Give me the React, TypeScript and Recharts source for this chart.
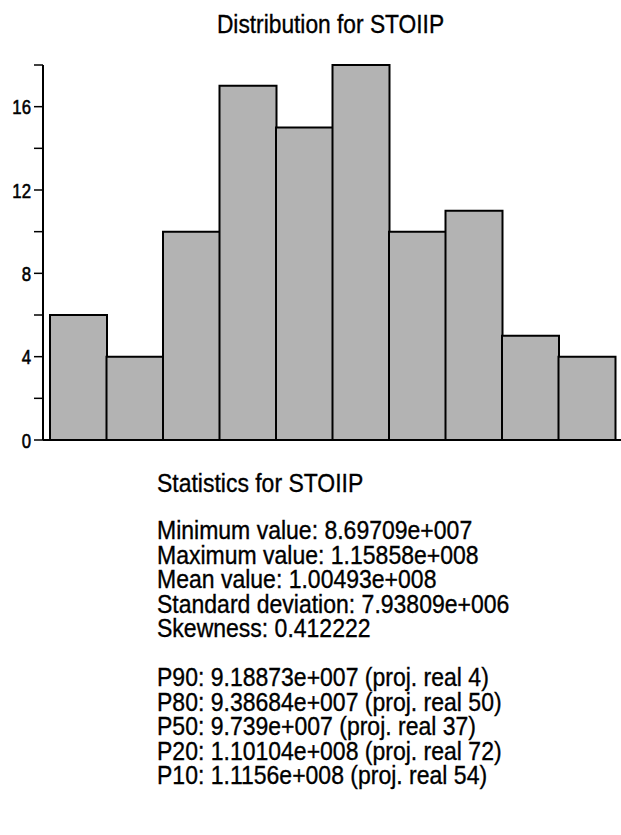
import React from 'react';
import { BarChart, Bar, XAxis, YAxis } from 'recharts';

const bins = ['1', '2', '3', '4', '5', '6', '7', '8', '9', '10'];
const counts = [6, 4, 10, 17, 15, 18, 10, 11, 5, 4];
const yTicks = [0, 2, 4, 6, 8, 10, 12, 14, 16, 18];
const statLines = [
  'Minimum value: 8.69709e+007',
  'Maximum value: 1.15858e+008',
  'Mean value: 1.00493e+008',
  'Standard deviation: 7.93809e+006',
  'Skewness: 0.412222',
];
const percentileLines = [
  'P90: 9.18873e+007 (proj. real 4)',
  'P80: 9.38684e+007 (proj. real 50)',
  'P50: 9.739e+007 (proj. real 37)',
  'P20: 1.10104e+008 (proj. real 72)',
  'P10: 1.1156e+008 (proj. real 54)',
];

const data = bins.map((bin, i) => ({ bin, count: counts[i] }));
const font = "'Liberation Sans', Arial, sans-serif";
const thick = { WebkitTextStroke: '0.35px #000' } as React.CSSProperties;

// narrow-looking tick labels, only every 4th value gets a label
const YTick = ({ x, y, payload }: any) => {
  if (payload.value % 4 !== 0) return null;
  return (
    <text
      transform={`translate(${x},${y}) scale(0.8,1)`}
      textAnchor="end"
      dy={7.5}
      fontSize={21}
      fontFamily={font}
      fill="#000"
      stroke="#000"
      strokeWidth={0.6}
    >
      {payload.value}
    </text>
  );
};

const Line = ({ text, scale }: { text: string; scale: number }) => (
  <div style={{ whiteSpace: 'nowrap', transform: `scaleX(${scale})`, transformOrigin: 'left center' }}>{text}</div>
);

const App: React.FC = () => {
  return (
    <div style={{ position: 'absolute', left: 0, top: 0, width: 621, height: 835, background: '#fff', fontFamily: font, color: '#000', overflow: 'hidden' }}>
      <div style={{ position: 'absolute', left: 0, top: 10, width: 661, textAlign: 'center', fontSize: 25, lineHeight: '29px', whiteSpace: 'nowrap', transform: 'scaleX(0.91)', transformOrigin: 'center', ...thick }}>
        Distribution for STOIIP
      </div>
      <div style={{ position: 'absolute', left: 0, top: 0 }}>
        <BarChart
          width={621}
          height={465}
          data={data}
          margin={{ top: 65, right: 0, left: 0, bottom: 20 }}
          barCategoryGap={0}
        >
          <XAxis
            dataKey="bin"
            height={5}
            tick={false}
            tickLine={false}
            axisLine={{ stroke: '#000', strokeWidth: 2 }}
            padding={{ left: 7, right: 6 }}
          />
          <YAxis
            width={43}
            domain={[0, 18]}
            ticks={yTicks}
            interval={0}
            tickSize={9}
            tickMargin={3}
            tickLine={{ stroke: '#000', strokeWidth: 1.5 }}
            axisLine={{ stroke: '#000', strokeWidth: 2 }}
            tick={<YTick />}
          />
          <Bar dataKey="count" fill="#b3b3b3" stroke="#000" strokeWidth={2} isAnimationActive={false} />
        </BarChart>
      </div>
      <div style={{ position: 'absolute', left: 157, top: 469, fontSize: 26, lineHeight: '28px', ...thick }}>
        <Line text="Statistics for STOIIP" scale={0.883} />
      </div>
      <div style={{ position: 'absolute', left: 157, top: 518, fontSize: 25, lineHeight: '24.5px', ...thick }}>
        {statLines.map((l) => (
          <Line key={l} text={l} scale={0.92} />
        ))}
        <div style={{ height: 24.5 }} />
        {percentileLines.map((l) => (
          <Line key={l} text={l} scale={0.92} />
        ))}
      </div>
    </div>
  );
};

export default App;
